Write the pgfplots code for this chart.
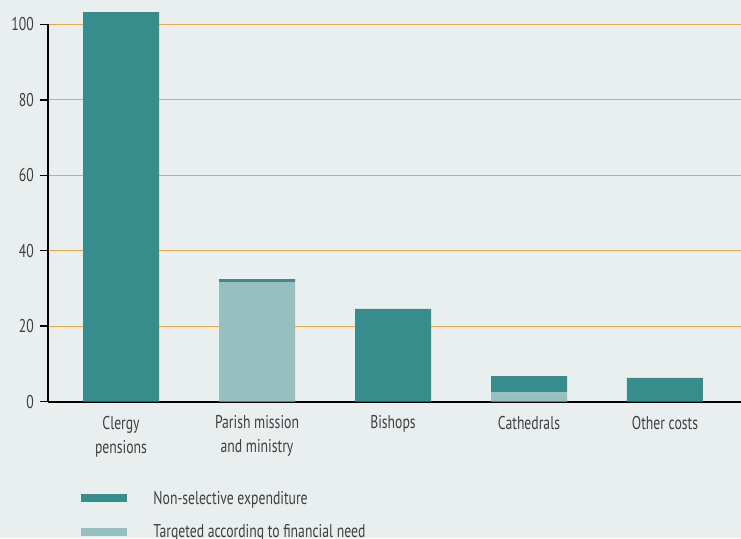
\documentclass[border=0pt]{standalone}
\usepackage{pgfplots}
\pgfplotsset{compat=1.18}
\usepackage{fontspec}
\setmainfont[FakeStretch=0.74]{PT Sans}
\definecolor{bgc}{HTML}{E9EFEE}
\definecolor{dark}{HTML}{368D8C}
\definecolor{light}{HTML}{98BFBF}
\definecolor{gridc}{HTML}{E8A84A}
\definecolor{txt}{HTML}{404040}
\begin{document}
\begin{tikzpicture}
\fill[bgc] (0,0) rectangle (741pt,538pt);
\begin{axis}[
    at={(48pt,136.3pt)}, anchor=south west,
    scale only axis,
    width=693pt, height=377.4pt,
    ybar stacked,
    bar width=76pt,
    xmin=-0.537, xmax=4.559,
    ymin=0, ymax=100,
    clip=false,
    axis x line=bottom, axis y line=left,
    axis line style={-, line width=2pt, black},
    ytick={0,20,...,100},
    xtick={0,1,2,3,4},
    xticklabels={{Clergy\\pensions},{Parish mission\\and ministry},Bishops,Cathedrals,Other costs},
    x tick style={draw=none},
    y tick style={line width=1.5pt, black},
    major tick length=8pt,
    tick align=outside,
    ymajorgrids,
    grid style={gridc, line width=1pt},
    /pgf/number format/assume math mode=true,
    ticklabel style={font=\fontsize{18.5}{24}\selectfont, text=txt},
    xticklabel style={align=center, anchor=north, inner sep=0pt, yshift=-6pt},
    yticklabel style={inner sep=0pt, xshift=-6pt},
    reverse legend,
    legend style={at={(axis description cs:0.048,-0.231)}, anchor=north west,
        draw=none, fill=none, inner sep=0pt, row sep=15pt,
        font=\fontsize{18.5}{22}\selectfont, text=txt,
        /tikz/every odd column/.append style={column sep=24pt}},
    legend cell align=left,
]
\addplot[fill=light, draw=none,
    legend image code/.code={\fill[light] (0pt,-4pt) rectangle (46pt,4pt);}]
    coordinates {(0,0) (1,31.7) (2,0) (3,2.5) (4,0)};
\addplot[fill=dark, draw=none,
    legend image code/.code={\fill[dark] (0pt,-4pt) rectangle (46pt,4pt);}]
    coordinates {(0,103.2) (1,0.8) (2,24.6) (3,4.3) (4,6.3)};
\legend{Targeted according to financial need, Non-selective expenditure}
\end{axis}
\pgfresetboundingbox
\useasboundingbox (0,0) rectangle (741pt,538pt);
\end{tikzpicture}
\end{document}
